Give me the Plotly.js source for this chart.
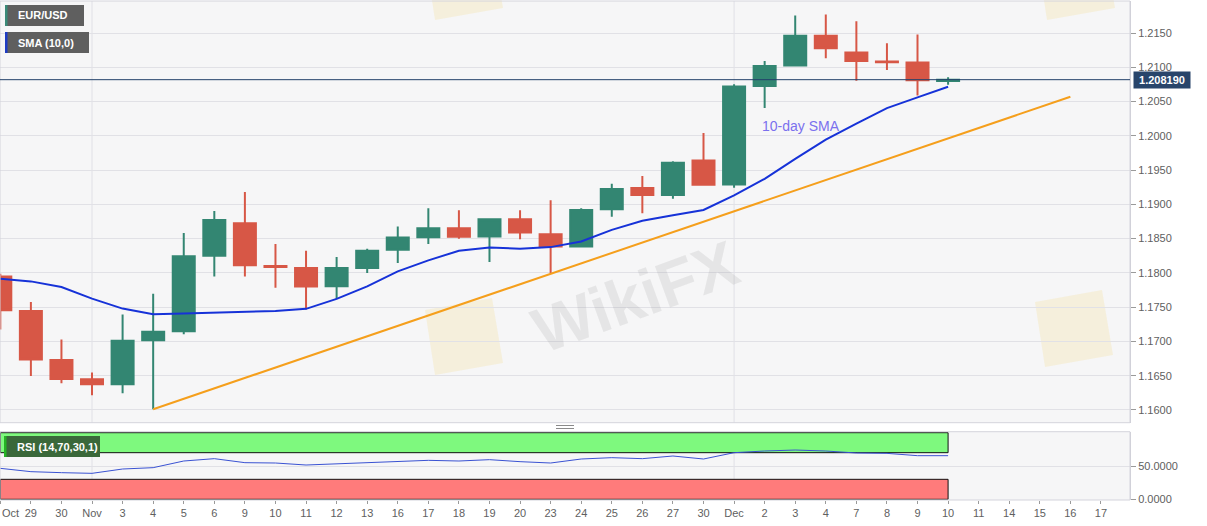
<!DOCTYPE html>
<html><head><meta charset="utf-8">
<script src="https://cdn.plot.ly/plotly-3.0.1.min.js"></script>
<style>html,body{margin:0;padding:0;background:#fff;}#chart{width:1207px;height:526px;}</style>
</head><body><div id="chart"></div>
<script>
// ---- data ----
const dates = ["Oct 28","Oct 29","Oct 30","Nov 2","Nov 3","Nov 4","Nov 5","Nov 6","Nov 9","Nov 10","Nov 11","Nov 12","Nov 13","Nov 16","Nov 17","Nov 18","Nov 19","Nov 20","Nov 23","Nov 24","Nov 25","Nov 26","Nov 27","Nov 30","Dec 1","Dec 2","Dec 3","Dec 4","Dec 7","Dec 8","Dec 9","Dec 10","Dec 11","Dec 14","Dec 15","Dec 16","Dec 17"];
const tickLabels = ["Oct","29","30","Nov","3","4","5","6","9","10","11","12","13","16","17","18","19","20","23","24","25","26","27","30","Dec","2","3","4","7","8","9","10","11","14","15","16","17"];
const openP  = [1.17949,1.17445,1.16728,1.16447,1.16374,1.17018,1.17149,1.18249,1.18724,1.18100,1.18070,1.17804,1.18071,1.18337,1.18521,1.18652,1.18531,1.18783,1.18565,1.18386,1.18928,1.19237,1.19136,1.19640,1.19291,1.20725,1.21025,1.21461,1.21214,1.21083,1.21069,1.20800];
const highP  = [1.17987,1.17576,1.17028,1.16548,1.17391,1.17697,1.18583,1.18903,1.19179,1.18423,1.18322,1.18231,1.18352,1.18676,1.18943,1.18914,1.18797,1.18914,1.19059,1.18943,1.19300,1.19412,1.19630,1.20042,1.20754,1.21093,1.21757,1.21771,1.21670,1.21350,1.21480,1.20856];
const lowP   = [1.17173,1.16495,1.16389,1.16214,1.16243,1.16011,1.17106,1.17949,1.17949,1.17784,1.17464,1.17620,1.17998,1.18143,1.18420,1.18497,1.18158,1.18492,1.17998,1.18376,1.18820,1.18869,1.19082,1.19276,1.19242,1.20405,1.21010,1.21132,1.20802,1.20962,1.20589,1.20744];
const closeP = [1.17454,1.16737,1.16452,1.16374,1.17009,1.17140,1.18244,1.18772,1.18113,1.18085,1.17803,1.18071,1.18323,1.18516,1.18652,1.18526,1.18783,1.18589,1.18386,1.18919,1.19224,1.19136,1.19606,1.19286,1.20720,1.21020,1.21461,1.21277,1.21093,1.21074,1.20812,1.20819];
const sma10  = [1.17915,1.17876,1.17794,1.17624,1.17479,1.17396,1.17406,1.17420,1.17430,1.17445,1.17475,1.17620,1.17804,1.18022,1.18182,1.18323,1.18371,1.18352,1.18376,1.18458,1.18628,1.18760,1.18840,1.18918,1.19131,1.19373,1.19664,1.19945,1.20177,1.20405,1.20560,1.20715];
const rsi14  = [46.5,41.5,40,39,45.5,47.5,57.5,61,55,54.5,51.5,53.5,55.5,57.5,58.5,57.5,59.5,56.5,54.5,60.5,62.5,61,65,60.5,70,72.5,74,72.5,69.5,69,65.5,65.5];
const trendDates  = ["Nov 4","Dec 16"];
const trendValues = [1.16011, 1.20570];
const lastPrice = 1.20819;
const rsiLevels = [30, 70];
const monthStarts = ["Nov 2","Dec 1"];
const legendNames = ["EUR/USD","SMA (10,0)","RSI (14,70,30,1)"];
const smaNote = "10-day SMA";
const watermark = "WikiFX";

// ---- helpers ----
const idx = d => dates.indexOf(d);
const xAll = dates.map((d,i)=>i);
const xData = closeP.map((v,i)=>i);
const W = 1207, H = 526, ML = 0, MR = 77, MT = 1, MB = 26;
const PW = W-ML-MR, PH = H-MT-MB;
const px2x = p => (p-ML)/PW;
const px2y = p => (H-MB-p)/PH;
const FONT = '"Liberation Sans", Arial, sans-serif';
const GREEN = '#338672', RED = '#d75746';
// first label sits at the left edge: draw it as a left-anchored annotation instead
const ticktext = tickLabels.map((t,i)=> i===0 ? '' : t);

const traces = [
  {type:'candlestick', x:xData, open:openP, high:highP, low:lowP, close:closeP,
   xaxis:'x', yaxis:'y', whiskerwidth:0, hoverinfo:'skip',
   increasing:{line:{color:GREEN,width:2}, fillcolor:GREEN},
   decreasing:{line:{color:RED,width:2}, fillcolor:RED}, showlegend:false},
  {type:'scatter', mode:'lines', x:xData, y:sma10, xaxis:'x', yaxis:'y',
   line:{color:'#1632d8', width:2}, hoverinfo:'skip', showlegend:false},
  {type:'scatter', mode:'lines', x:trendDates.map(idx), y:trendValues, xaxis:'x', yaxis:'y',
   line:{color:'#f59f1c', width:2}, hoverinfo:'skip', showlegend:false},
  {type:'scatter', mode:'lines', x:xData, y:rsi14, xaxis:'x', yaxis:'y2',
   line:{color:'#3a52d2', width:1}, hoverinfo:'skip', showlegend:false}
];

const lastIdx = closeP.length-1;
const shapes = [];
// watermark logo tiles (pale squares)
const logoBase = [[425,310],[492,298],[503,363],[435,375]];
[[0,0],[610,-8],[0,-355],[612,-355],[-610,8]].forEach(o=>{
  const pts = logoBase.map(p=>[px2x(p[0]+o[0]), px2y(p[1]+o[1])]);
  shapes.push({type:'path', xref:'paper', yref:'paper',
    path:'M'+pts.map(p=>p[0]+','+p[1]).join(' L')+' Z',
    fillcolor:'rgba(246,222,150,0.28)', line:{width:0}, layer:'below'});
});
// month grid lines
monthStarts.forEach(m=>{
  ['y domain','y2 domain'].forEach(yr=>{
    shapes.push({type:'line', xref:'x', yref:yr, x0:idx(m), x1:idx(m), y0:0, y1:1,
      line:{color:'#e0e0e6', width:1}, layer:'below'});
  });
});
// RSI bands
shapes.push({type:'rect', xref:'x', yref:'y2', x0:0, x1:lastIdx, y0:rsiLevels[1], y1:100,
  fillcolor:'#7ef97e', line:{color:'#111', width:1}, layer:'between'});
shapes.push({type:'rect', xref:'x', yref:'y2', x0:0, x1:lastIdx, y0:0, y1:rsiLevels[0],
  fillcolor:'#ff7b7b', line:{color:'#111', width:1}, layer:'between'});
// pane borders
['y domain','y2 domain'].forEach(yr=>{
  shapes.push({type:'rect', xref:'x domain', yref:yr, x0:0, x1:1, y0:0, y1:1,
    line:{color:'#d4d4dc', width:1}, fillcolor:'rgba(0,0,0,0)', layer:'above'});
});
// last price line
shapes.push({type:'line', xref:'x domain', yref:'y', x0:0, x1:1, y0:lastPrice, y1:lastPrice,
  line:{color:'#22406a', width:1}, layer:'above'});
// separator handle
[425.5, 428.5].forEach(p=>{
  shapes.push({type:'line', xref:'paper', yref:'paper', x0:px2x(556), x1:px2x(574), y0:px2y(p), y1:px2y(p),
    line:{color:'#8a8a8a', width:1}});
});
// legend boxes
const boxes = [
  {x0:5,x1:84,y0:5,y1:26,bg:'#5f5f5f',stripe:'#3a8a78'},
  {x0:5,x1:89,y0:32,y1:53,bg:'#5f5f5f',stripe:'#1f3cc4'},
  {x0:4,x1:100,y0:436,y1:457,bg:'#3a683a',stripe:'#24b424'}
];
boxes.forEach(b=>{
  shapes.push({type:'rect', xref:'paper', yref:'paper', x0:px2x(b.x0), x1:px2x(b.x1), y0:px2y(b.y1), y1:px2y(b.y0),
    fillcolor:b.bg, line:{width:0}, layer:'above'});
  shapes.push({type:'rect', xref:'paper', yref:'paper', x0:px2x(b.x0), x1:px2x(b.x0+2.5), y0:px2y(b.y1), y1:px2y(b.y0),
    fillcolor:b.stripe, line:{width:0}, layer:'above'});
});

const annotations = [];
// watermark text
annotations.push({xref:'paper', yref:'paper', x:px2x(635), y:px2y(297), xanchor:'center', yanchor:'middle',
  text:'<b>'+watermark+'</b>', textangle:-20, showarrow:false,
  font:{family:FONT, size:64, color:'rgba(140,140,140,0.16)'}});
boxes.forEach((b,i)=>annotations.push({
  xref:'paper', yref:'paper', x:px2x(b.x0+11), y:px2y((b.y0+b.y1)/2), xanchor:'left', yanchor:'middle',
  text:'<b>'+legendNames[i]+'</b>', showarrow:false, font:{family:FONT, size:11, color:'#ffffff'}
}));
annotations.push({xref:'paper', yref:'y', x:px2x(1133), y:lastPrice, xanchor:'left', yanchor:'middle',
  text:'<b>'+lastPrice.toFixed(6)+'</b>', showarrow:false, bgcolor:'#28456b', borderpad:2, width:52, height:12,
  font:{family:FONT, size:11, color:'#ffffff'}});
annotations.push({xref:'x', yref:'y', x:26.2, y:1.2014, text:smaNote, showarrow:false,
  font:{family:FONT, size:14, color:'#7b70ee'}});
// first x label (left edge)
annotations.push({xref:'x', yref:'paper', x:0, y:px2y(513), xanchor:'left', yanchor:'middle',
  text:tickLabels[0], showarrow:false, xshift:0, font:{family:FONT, size:11, color:'#606060'}});

const layout = {
  width:W, height:H, margin:{l:ML, r:MR, t:MT, b:MB},
  paper_bgcolor:'#ffffff', plot_bgcolor:'#f6f6f7',
  showlegend:false, font:{family:FONT, size:11, color:'#606060'},
  boxgap:0.28, boxgroupgap:0,
  xaxis:{domain:[0,1], range:[-0.01,36.95], anchor:'y2', tickmode:'array', tickvals:xAll, ticktext:ticktext,
    ticks:'outside', ticklen:3, tickcolor:'#9a9a9a', tickfont:{family:FONT,size:11,color:'#606060'},
    showgrid:false, zeroline:false, showline:false, rangeslider:{visible:false}, fixedrange:true},
  yaxis:{domain:[px2y(422.7),1], range:[1.15814,1.21967], side:'right', anchor:'x',
    tickmode:'linear', tick0:1.16, dtick:0.005, tickformat:'.4f', ticks:'outside', ticklen:5, tickcolor:'#9a9a9a',
    tickfont:{family:FONT,size:11,color:'#606060'}, gridcolor:'#e1e1e6', zeroline:false,
    showline:true, linecolor:'#cfcfd6', fixedrange:true},
  yaxis2:{domain:[0,px2y(431.7)], range:[-1.05,101.5], side:'right', anchor:'x',
    tickmode:'array', tickvals:[0,50], tickformat:'.4f', ticks:'outside', ticklen:5, tickcolor:'#9a9a9a',
    tickfont:{family:FONT,size:11,color:'#606060'}, gridcolor:'#e1e1e6', zeroline:false,
    showline:true, linecolor:'#cfcfd6', fixedrange:true},
  shapes:shapes, annotations:annotations
};
Plotly.newPlot('chart', traces, layout, {staticPlot:true, displayModeBar:false});
</script>
</body></html>
